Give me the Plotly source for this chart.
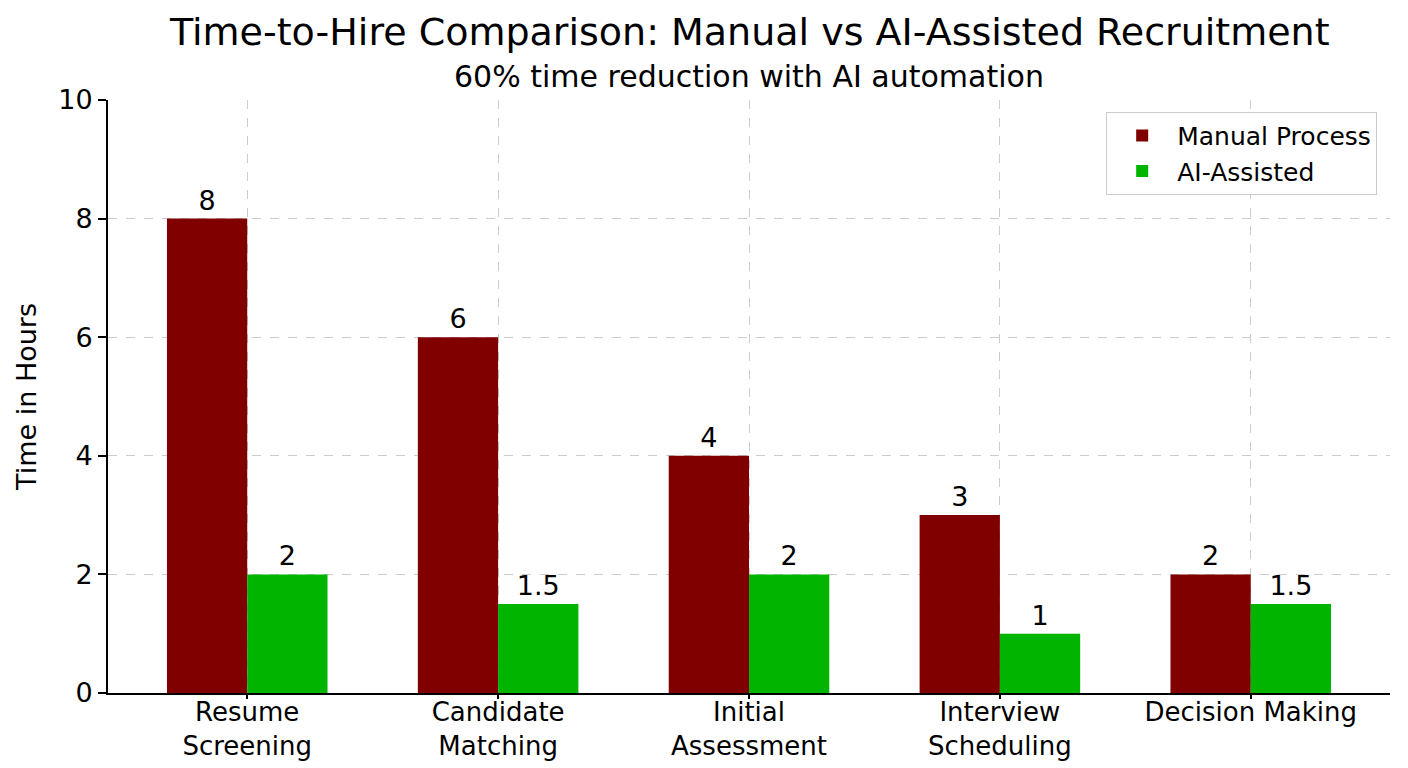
import plotly.graph_objects as go

# data
stages = ["Resume<br>Screening", "Candidate<br>Matching", "Initial<br>Assessment",
          "Interview<br>Scheduling", "Decision Making"]
manual_hours = [8, 6, 4, 3, 2]
ai_hours = [2, 1.5, 2, 1, 1.5]
y_ticks = [0, 2, 4, 6, 8, 10]

positions = list(range(len(stages)))
bar_width = 0.32
font_name = "DejaVu Sans"

fig = go.Figure()

fig.add_trace(go.Bar(
    x=positions,
    y=manual_hours,
    width=bar_width,
    offset=-bar_width,
    name="Manual Process",
    marker_color="#800000",
    marker_line_width=0,
    text=[f"{v:g}" for v in manual_hours],
    textposition="outside",
    textfont=dict(size=27, color="black", family=font_name),
    cliponaxis=False,
))
fig.add_trace(go.Bar(
    x=positions,
    y=ai_hours,
    width=bar_width,
    offset=0,
    name="AI-Assisted",
    marker_color="#00b400",
    marker_line_width=0,
    text=[f"{v:g}" for v in ai_hours],
    textposition="outside",
    textfont=dict(size=27, color="black", family=font_name),
    cliponaxis=False,
))

# page body has an 8px margin, so the figure is 1400x760
fig.update_layout(
    width=1400,
    height=760,
    template="plotly_white",
    font=dict(family=font_name, size=27, color="black"),
    plot_bgcolor="white",
    paper_bgcolor="white",
    margin=dict(l=100, r=18, t=92, b=75, pad=0),
    barmode="overlay",
    showlegend=True,
    legend=dict(
        x=0.99, y=0.98, xanchor="right", yanchor="top",
        bgcolor="white", bordercolor="#cccccc", borderwidth=1,
        font=dict(size=25), itemwidth=60,
    ),
    annotations=[
        dict(text="Time-to-Hire Comparison: Manual vs AI-Assisted Recruitment",
             xref="paper", yref="paper", x=0.5, y=1, yshift=68,
             showarrow=False, font=dict(size=38), yanchor="middle"),
        dict(text="60% time reduction with AI automation",
             xref="paper", yref="paper", x=0.5, y=1, yshift=24,
             showarrow=False, font=dict(size=30), yanchor="middle"),
    ],
)

fig.update_xaxes(
    tickvals=positions,
    ticktext=stages,
    range=[-0.555, len(stages) - 0.445],
    automargin=False,
    showline=True, linecolor="black", linewidth=2,
    ticks="outside", ticklen=4, tickcolor="black", tickwidth=1.5,
    ticklabelstandoff=-9,
    showgrid=True, gridcolor="#cccccc", griddash="dash", gridwidth=1,
    zeroline=False,
    tickfont=dict(size=26),
)
fig.update_yaxes(
    range=[0, 10],
    tickvals=y_ticks,
    automargin=False,
    showline=True, linecolor="black", linewidth=2,
    ticks="outside", ticklen=8, tickcolor="black", tickwidth=2,
    showgrid=True, gridcolor="#cccccc", griddash="dash", gridwidth=1,
    zeroline=False,
    tickfont=dict(size=27),
    title=dict(text="Time in Hours", font=dict(size=27), standoff=14),
)

fig.write_html("out.html")
